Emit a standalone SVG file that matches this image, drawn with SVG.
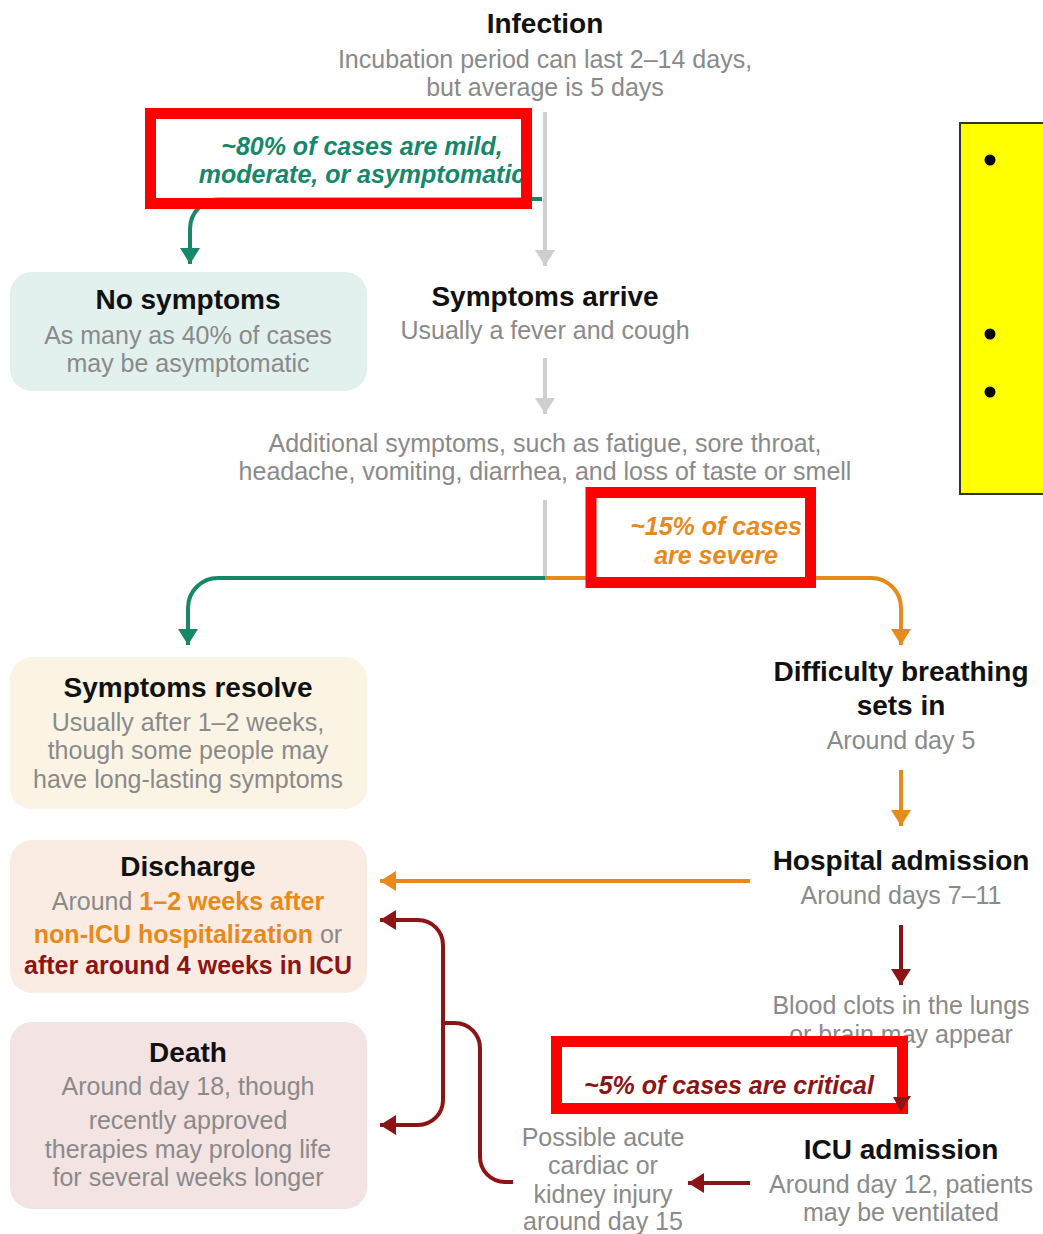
<svg xmlns="http://www.w3.org/2000/svg" width="1043" height="1234" viewBox="0 0 1043 1234">
<defs>
<style>
text{font-family:"Liberation Sans",Arial,sans-serif;text-anchor:middle}
.t{font-size:28px;font-weight:bold;fill:#111}
.s{font-size:25px;fill:#8a8a8a}
.lab{font-size:25px;font-weight:bold;font-style:italic}
.ln{fill:none;stroke-width:4}
.g{stroke:#cfcfcf}
.gr{stroke:#17876a}
.or{stroke:#e8891c}
.dr{stroke:#8c1414}
.ob{fill:#e8891c;font-weight:bold}
.db{fill:#8c1414;font-weight:bold}
.rb{fill:none;stroke:#ff0000;stroke-width:11}
</style>
<marker id="mg" markerUnits="userSpaceOnUse" viewBox="0 0 16 20" refX="16" refY="10" markerWidth="16" markerHeight="20" orient="auto"><path d="M0,0 L16,10 L0,20 z" fill="#cfcfcf"/></marker>
<marker id="mgr" markerUnits="userSpaceOnUse" viewBox="0 0 16 20" refX="16" refY="10" markerWidth="16" markerHeight="20" orient="auto"><path d="M0,0 L16,10 L0,20 z" fill="#17876a"/></marker>
<marker id="mor" markerUnits="userSpaceOnUse" viewBox="0 0 16 20" refX="16" refY="10" markerWidth="16" markerHeight="20" orient="auto"><path d="M0,0 L16,10 L0,20 z" fill="#e8891c"/></marker>
<marker id="mdr" markerUnits="userSpaceOnUse" viewBox="0 0 16 20" refX="16" refY="10" markerWidth="16" markerHeight="20" orient="auto"><path d="M0,0 L16,10 L0,20 z" fill="#8c1414"/></marker>
</defs>
<rect width="1043" height="1234" fill="#ffffff"/>

<g id="connectors">
<path class="ln g" d="M545,112 V266" marker-end="url(#mg)"/>
<path class="ln gr" d="M542,199 H220 A30 30 0 0 0 190,229 V264" marker-end="url(#mgr)"/>
<path class="ln g" d="M545,358 V414" marker-end="url(#mg)"/>
<path class="ln g" d="M545,500 V578"/>
<path class="ln gr" d="M545,578 H218 A30 30 0 0 0 188,608 V645" marker-end="url(#mgr)"/>
<path class="ln or" d="M545,578 H871 A30 30 0 0 1 901,608 V645" marker-end="url(#mor)"/>
<path class="ln or" d="M901,770 V826" marker-end="url(#mor)"/>
<path class="ln or" d="M750,881 H380" marker-end="url(#mor)"/>
<path class="ln dr" d="M901,925 V985" marker-end="url(#mdr)"/>
<path class="ln dr" d="M901,1050 V1112" marker-end="url(#mdr)"/>
<path class="ln dr" d="M750,1183 H688" marker-end="url(#mdr)"/>
<path class="ln dr" d="M513,1182 H505 A25 25 0 0 1 480,1157 V1048 A25 25 0 0 0 455,1023 H443"/>
<path class="ln dr" d="M443,1023 V945 A25 25 0 0 0 418,920 H380" marker-end="url(#mdr)"/>
<path class="ln dr" d="M443,1023 V1100 A25 25 0 0 1 418,1125 H380" marker-end="url(#mdr)"/>
</g>

<g id="infection">
<text class="t" x="545" y="33">Infection</text>
<text class="s" x="545" y="68">Incubation period can last 2–14 days,</text>
<text class="s" x="545" y="96">but average is 5 days</text>
</g>

<g id="label-80">
<rect x="150.5" y="113.5" width="376" height="84" fill="#ffffff"/>
<text class="lab" fill="#17876a" x="362" y="155">~80% of cases are mild,</text>
<text class="lab" fill="#17876a" x="362" y="183">moderate, or asymptomatic</text>
<rect class="rb" x="150.5" y="113.5" width="376" height="90"/>
</g>

<g id="no-symptoms">
<rect x="10" y="272" width="357" height="119" rx="22" fill="#e2f0ee"/>
<text class="t" x="188" y="309">No symptoms</text>
<text class="s" x="188" y="344">As many as 40% of cases</text>
<text class="s" x="188" y="372">may be asymptomatic</text>
</g>

<g id="symptoms-arrive">
<text class="t" x="545" y="306">Symptoms arrive</text>
<text class="s" x="545" y="339">Usually a fever and cough</text>
</g>

<g id="additional">
<text class="s" x="545" y="452">Additional symptoms, such as fatigue, sore throat,</text>
<text class="s" x="545" y="480">headache, vomiting, diarrhea, and loss of taste or smell</text>
</g>

<g id="label-15">
<rect x="591" y="492.5" width="219.5" height="85" fill="#ffffff"/>
<text class="lab" fill="#e8891c" x="716" y="535">~15% of cases</text>
<text class="lab" fill="#e8891c" x="716" y="564">are severe</text>
<rect class="rb" x="591" y="492.5" width="219.5" height="90"/>
</g>

<g id="symptoms-resolve">
<rect x="10" y="657" width="357" height="152" rx="22" fill="#fbf4e4"/>
<text class="t" x="188" y="697">Symptoms resolve</text>
<text class="s" x="188" y="731">Usually after 1–2 weeks,</text>
<text class="s" x="188" y="759">though some people may</text>
<text class="s" x="188" y="788">have long-lasting symptoms</text>
</g>

<g id="difficulty-breathing">
<text class="t" x="901" y="681">Difficulty breathing</text>
<text class="t" x="901" y="715">sets in</text>
<text class="s" x="901" y="749">Around day 5</text>
</g>

<g id="hospital-admission">
<text class="t" x="901" y="870">Hospital admission</text>
<text class="s" x="901" y="904">Around days 7–11</text>
</g>

<g id="discharge">
<rect x="10" y="840" width="357" height="153" rx="22" fill="#fbece3"/>
<text class="t" x="188" y="876">Discharge</text>
<text class="s" x="188" y="910">Around <tspan class="ob">1–2 weeks after</tspan></text>
<text class="s" x="188" y="943"><tspan class="ob">non-ICU hospitalization</tspan> or</text>
<text class="s" x="188" y="974"><tspan class="db">after around 4 weeks in ICU</tspan></text>
</g>

<g id="blood-clots">
<text class="s" x="901" y="1014">Blood clots in the lungs</text>
<text class="s" x="901" y="1043">or brain may appear</text>
</g>

<g id="label-5">
<rect x="556.5" y="1041.5" width="346" height="67" fill="#ffffff"/>
<text class="lab" fill="#8c1414" x="729" y="1094">~5% of cases are critical</text>
<rect class="rb" x="556.5" y="1041.5" width="346" height="67"/>
<path d="M893,1097 L909,1097 L901,1112 z" fill="#8c1414"/>
</g>

<g id="death">
<rect x="10" y="1022" width="357" height="187" rx="22" fill="#f3e3e3"/>
<text class="t" x="188" y="1062">Death</text>
<text class="s" x="188" y="1095">Around day 18, though</text>
<text class="s" x="188" y="1129">recently approved</text>
<text class="s" x="188" y="1158">therapies may prolong life</text>
<text class="s" x="188" y="1186">for several weeks longer</text>
</g>

<g id="icu-admission">
<text class="t" x="901" y="1159">ICU admission</text>
<text class="s" x="901" y="1193">Around day 12, patients</text>
<text class="s" x="901" y="1221">may be ventilated</text>
</g>

<g id="injury">
<text class="s" x="603" y="1146">Possible acute</text>
<text class="s" x="603" y="1174">cardiac or</text>
<text class="s" x="603" y="1203">kidney injury</text>
<text class="s" x="603" y="1230">around day 15</text>
</g>

<g id="yellow-note">
<rect x="960" y="123" width="100" height="371" fill="#ffff00" stroke="#333333" stroke-width="2"/>
<circle cx="990" cy="160" r="5.5" fill="#000"/>
<circle cx="990" cy="334" r="5.5" fill="#000"/>
<circle cx="990" cy="392" r="5.5" fill="#000"/>
</g>
</svg>
